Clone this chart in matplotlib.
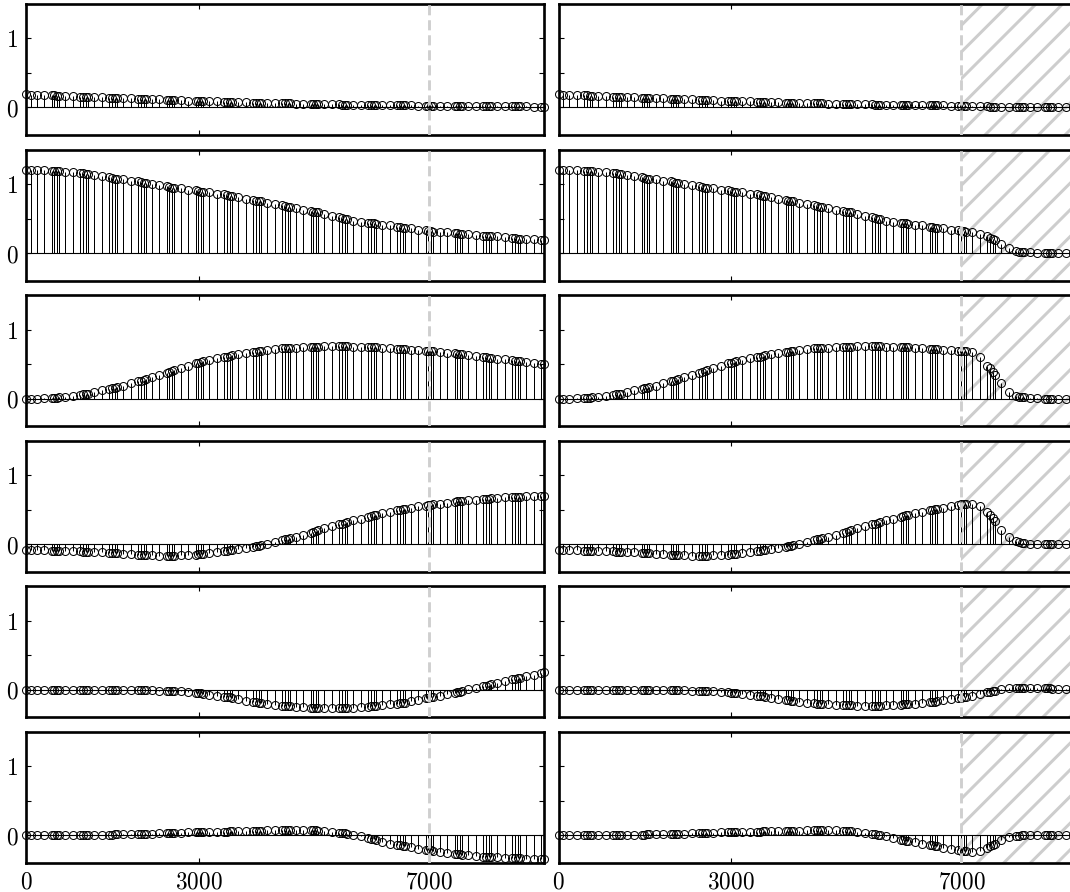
import matplotlib
matplotlib.use('Agg')
import matplotlib.pyplot as plt

# sample positions (same for every panel)
x_pos = [0, 80,
         186, 319, 446, 493, 545, 580,
         686, 819, 946, 993, 1045, 1080,
         1186, 1319, 1446, 1493, 1545, 1580,
         1686, 1819, 1946, 1993, 2045, 2080,
         2186, 2319, 2446, 2493, 2545, 2580,
         2686, 2819, 2946, 2993, 3045, 3080,
         3186, 3319, 3446, 3493, 3545, 3580,
         3686, 3819, 3946, 3993, 4045, 4080,
         4186, 4319, 4446, 4493, 4545, 4580,
         4686, 4819, 4946, 4993, 5045, 5080,
         5186, 5319, 5446, 5493, 5545, 5580,
         5686, 5819, 5946, 5993, 6045, 6080,
         6186, 6319, 6446, 6493, 6545, 6580,
         6686, 6819, 6946, 6993, 7045, 7080,
         7186, 7319, 7446, 7493, 7545, 7580,
         7686, 7819, 7946, 7993, 8045, 8080,
         8186, 8319, 8446, 8493, 8545, 8580,
         8686, 8819, 8946, 8993]

left_1 = [0.19, 0.187,
          0.183, 0.179, 0.174, 0.173, 0.171, 0.170,
          0.166, 0.161, 0.157, 0.155, 0.153, 0.152,
          0.149, 0.145, 0.141, 0.140, 0.138, 0.137,
          0.134, 0.130, 0.127, 0.125, 0.124, 0.123,
          0.119, 0.115, 0.112, 0.110, 0.108, 0.107,
          0.104, 0.100, 0.096, 0.095, 0.094, 0.093,
          0.090, 0.087, 0.084, 0.083, 0.081, 0.080,
          0.078, 0.075, 0.071, 0.070, 0.069, 0.068,
          0.066, 0.063, 0.061, 0.060, 0.059, 0.058,
          0.056, 0.054, 0.051, 0.050, 0.049, 0.048,
          0.047, 0.045, 0.043, 0.042, 0.042, 0.041,
          0.040, 0.038, 0.036, 0.035, 0.035, 0.034,
          0.033, 0.031, 0.030, 0.029, 0.029, 0.029,
          0.028, 0.026, 0.025, 0.025, 0.024, 0.024,
          0.023, 0.022, 0.021, 0.021, 0.021, 0.020,
          0.020, 0.019, 0.018, 0.018, 0.018, 0.017,
          0.017, 0.016, 0.015, 0.015, 0.015, 0.015,
          0.014, 0.013, 0.012, 0.012]

right_1 = [0.19, 0.187,
           0.183, 0.179, 0.174, 0.173, 0.171, 0.170,
           0.166, 0.161, 0.157, 0.155, 0.153, 0.152,
           0.149, 0.145, 0.141, 0.140, 0.138, 0.137,
           0.134, 0.130, 0.127, 0.125, 0.124, 0.123,
           0.119, 0.115, 0.112, 0.110, 0.108, 0.107,
           0.104, 0.100, 0.096, 0.095, 0.094, 0.093,
           0.090, 0.087, 0.084, 0.083, 0.081, 0.080,
           0.078, 0.075, 0.071, 0.070, 0.069, 0.068,
           0.066, 0.063, 0.061, 0.060, 0.059, 0.058,
           0.056, 0.054, 0.051, 0.050, 0.049, 0.048,
           0.047, 0.045, 0.043, 0.042, 0.042, 0.041,
           0.040, 0.038, 0.036, 0.035, 0.035, 0.034,
           0.033, 0.031, 0.030, 0.029, 0.029, 0.029,
           0.028, 0.026, 0.025, 0.025, 0.024, 0.024,
           0.022, 0.019, 0.015, 0.013, 0.011, 0.009,
           0.006, 0.003, 0.002, 0.001, 0.001, 0.0,
           0.0, 0.0, 0.0, 0.0, 0.0, 0.0,
           0.0, 0.0, 0.0, 0.0]

left_2 = [1.20, 1.20,
          1.20, 1.20, 1.19, 1.19, 1.19, 1.19,
          1.18, 1.17, 1.16, 1.16, 1.15, 1.15,
          1.13, 1.12, 1.10, 1.09, 1.08, 1.08,
          1.07, 1.05, 1.04, 1.03, 1.02, 1.02,
          1.00, 0.98, 0.97, 0.96, 0.95, 0.95,
          0.94, 0.92, 0.91, 0.90, 0.89, 0.89,
          0.88, 0.86, 0.85, 0.84, 0.83, 0.83,
          0.81, 0.79, 0.77, 0.76, 0.75, 0.75,
          0.73, 0.71, 0.69, 0.68, 0.67, 0.67,
          0.65, 0.63, 0.61, 0.60, 0.59, 0.59,
          0.56, 0.54, 0.52, 0.51, 0.50, 0.49,
          0.47, 0.45, 0.44, 0.43, 0.43, 0.42,
          0.41, 0.40, 0.38, 0.38, 0.37, 0.37,
          0.36, 0.34, 0.33, 0.32, 0.32, 0.31,
          0.31, 0.30, 0.29, 0.29, 0.28, 0.28,
          0.27, 0.26, 0.25, 0.25, 0.25, 0.24,
          0.24, 0.23, 0.22, 0.22, 0.21, 0.21,
          0.20, 0.20, 0.19, 0.19]

right_2 = [1.20, 1.20,
           1.20, 1.20, 1.19, 1.19, 1.19, 1.19,
           1.18, 1.17, 1.16, 1.16, 1.15, 1.15,
           1.13, 1.12, 1.10, 1.09, 1.08, 1.08,
           1.07, 1.05, 1.04, 1.03, 1.02, 1.02,
           1.00, 0.98, 0.97, 0.96, 0.95, 0.95,
           0.94, 0.92, 0.91, 0.90, 0.89, 0.89,
           0.88, 0.86, 0.85, 0.84, 0.83, 0.83,
           0.81, 0.79, 0.77, 0.76, 0.75, 0.75,
           0.73, 0.71, 0.69, 0.68, 0.67, 0.67,
           0.65, 0.63, 0.61, 0.60, 0.59, 0.59,
           0.56, 0.54, 0.52, 0.51, 0.50, 0.49,
           0.47, 0.45, 0.44, 0.43, 0.43, 0.42,
           0.41, 0.40, 0.38, 0.38, 0.37, 0.37,
           0.36, 0.34, 0.33, 0.32, 0.32, 0.31,
           0.30, 0.28, 0.24, 0.22, 0.20, 0.19,
           0.13, 0.07, 0.03, 0.02, 0.02, 0.01,
           0.01, 0.005, 0.0, 0.0, 0.0, 0.0,
           0.0, 0.0, 0.0, 0.0]

left_3 = [0.0, 0.0,
          0.0, 0.005, 0.01, 0.01, 0.015, 0.02,
          0.03, 0.04, 0.055, 0.06, 0.065, 0.07,
          0.09, 0.12, 0.14, 0.15, 0.16, 0.17,
          0.19, 0.22, 0.25, 0.26, 0.27, 0.28,
          0.31, 0.34, 0.37, 0.38, 0.40, 0.41,
          0.44, 0.47, 0.51, 0.52, 0.53, 0.54,
          0.56, 0.59, 0.61, 0.61, 0.62, 0.63,
          0.65, 0.66, 0.68, 0.68, 0.69, 0.69,
          0.71, 0.72, 0.73, 0.73, 0.735, 0.74,
          0.74, 0.75, 0.755, 0.755, 0.755, 0.755,
          0.76, 0.76, 0.76, 0.76, 0.76, 0.76,
          0.755, 0.755, 0.75, 0.75, 0.75, 0.745,
          0.74, 0.73, 0.725, 0.72, 0.72, 0.715,
          0.71, 0.70, 0.69, 0.69, 0.685, 0.685,
          0.68, 0.665, 0.655, 0.65, 0.645, 0.64,
          0.63, 0.62, 0.605, 0.60, 0.595, 0.59,
          0.58, 0.57, 0.555, 0.55, 0.545, 0.54,
          0.53, 0.52, 0.505, 0.50]

right_3 = [0.0, 0.0,
           0.0, 0.005, 0.01, 0.01, 0.015, 0.02,
           0.03, 0.04, 0.055, 0.06, 0.065, 0.07,
           0.09, 0.12, 0.14, 0.15, 0.16, 0.17,
           0.19, 0.22, 0.25, 0.26, 0.27, 0.28,
           0.31, 0.34, 0.37, 0.38, 0.40, 0.41,
           0.44, 0.47, 0.51, 0.52, 0.53, 0.54,
           0.56, 0.59, 0.61, 0.61, 0.62, 0.63,
           0.65, 0.66, 0.68, 0.68, 0.69, 0.69,
           0.71, 0.72, 0.73, 0.73, 0.735, 0.74,
           0.74, 0.75, 0.755, 0.755, 0.755, 0.755,
           0.76, 0.76, 0.76, 0.76, 0.76, 0.76,
           0.755, 0.755, 0.75, 0.75, 0.75, 0.745,
           0.74, 0.73, 0.725, 0.72, 0.72, 0.715,
           0.71, 0.70, 0.69, 0.69, 0.685, 0.685,
           0.67, 0.60, 0.48, 0.44, 0.38, 0.34,
           0.22, 0.10, 0.04, 0.03, 0.02, 0.02,
           0.01, 0.01, 0.0, 0.0, 0.0, 0.0,
           0.0, 0.0, 0.0, 0.0]

left_4 = [-0.09, -0.09,
          -0.09, -0.09, -0.095, -0.095, -0.095, -0.095,
          -0.10, -0.10, -0.105, -0.11, -0.11, -0.11,
          -0.115, -0.12, -0.125, -0.13, -0.13, -0.13,
          -0.14, -0.145, -0.15, -0.15, -0.155, -0.155,
          -0.16, -0.165, -0.165, -0.165, -0.165, -0.165,
          -0.16, -0.155, -0.15, -0.145, -0.14, -0.14,
          -0.13, -0.12, -0.10, -0.10, -0.09, -0.085,
          -0.07, -0.05, -0.035, -0.03, -0.02, -0.015,
          0.0, 0.03, 0.06, 0.07, 0.08, 0.09,
          0.11, 0.14, 0.17, 0.18, 0.19, 0.20,
          0.23, 0.26, 0.29, 0.30, 0.31, 0.32,
          0.35, 0.37, 0.40, 0.41, 0.42, 0.43,
          0.45, 0.47, 0.49, 0.50, 0.51, 0.51,
          0.53, 0.55, 0.56, 0.57, 0.57, 0.58,
          0.59, 0.60, 0.615, 0.62, 0.62, 0.625,
          0.635, 0.645, 0.655, 0.66, 0.66, 0.665,
          0.67, 0.68, 0.685, 0.69, 0.69, 0.69,
          0.695, 0.70, 0.70, 0.70]

right_4 = [-0.09, -0.09,
           -0.09, -0.09, -0.095, -0.095, -0.095, -0.095,
           -0.10, -0.10, -0.105, -0.11, -0.11, -0.11,
           -0.115, -0.12, -0.125, -0.13, -0.13, -0.13,
           -0.14, -0.145, -0.15, -0.15, -0.155, -0.155,
           -0.16, -0.165, -0.165, -0.165, -0.165, -0.165,
           -0.16, -0.155, -0.15, -0.145, -0.14, -0.14,
           -0.13, -0.12, -0.10, -0.10, -0.09, -0.085,
           -0.07, -0.05, -0.035, -0.03, -0.02, -0.015,
           0.0, 0.03, 0.06, 0.07, 0.08, 0.09,
           0.11, 0.14, 0.17, 0.18, 0.19, 0.20,
           0.23, 0.26, 0.29, 0.30, 0.31, 0.32,
           0.35, 0.37, 0.40, 0.41, 0.42, 0.43,
           0.45, 0.47, 0.49, 0.50, 0.51, 0.51,
           0.53, 0.55, 0.57, 0.58, 0.58, 0.585,
           0.585, 0.55, 0.47, 0.43, 0.38, 0.33,
           0.21, 0.10, 0.04, 0.03, 0.02, 0.015,
           0.01, 0.005, 0.0, 0.0, 0.0, 0.0,
           0.0, 0.0, 0.0, 0.0]

left_5 = [0.0, 0.0,
          0.0, 0.0, 0.0, 0.0, 0.0, 0.0,
          0.0, 0.0, 0.0, 0.0, 0.0, 0.0,
          0.0, 0.0, 0.0, 0.0, 0.0, 0.0,
          0.0, 0.0, -0.005, -0.005, -0.005, -0.005,
          -0.005, -0.01, -0.01, -0.01, -0.015, -0.015,
          -0.02, -0.03, -0.04, -0.045, -0.05, -0.055,
          -0.07, -0.085, -0.10, -0.105, -0.11, -0.115,
          -0.135, -0.155, -0.17, -0.18, -0.185, -0.19,
          -0.205, -0.215, -0.23, -0.235, -0.235, -0.24,
          -0.25, -0.255, -0.26, -0.265, -0.265, -0.265,
          -0.27, -0.27, -0.27, -0.27, -0.265, -0.265,
          -0.26, -0.255, -0.245, -0.24, -0.24, -0.235,
          -0.225, -0.21, -0.20, -0.195, -0.19, -0.185,
          -0.165, -0.145, -0.125, -0.12, -0.11, -0.105,
          -0.09, -0.065, -0.045, -0.035, -0.025, -0.02,
          0.005, 0.03, 0.055, 0.06, 0.07, 0.08,
          0.10, 0.125, 0.15, 0.16, 0.17, 0.175,
          0.20, 0.22, 0.25, 0.26]

right_5 = [0.0, 0.0,
           0.0, 0.0, 0.0, 0.0, 0.0, 0.0,
           0.0, 0.0, 0.0, 0.0, 0.0, 0.0,
           0.0, 0.0, 0.0, 0.0, 0.0, 0.0,
           0.0, 0.0, -0.005, -0.005, -0.005, -0.005,
           -0.005, -0.01, -0.01, -0.01, -0.015, -0.015,
           -0.02, -0.025, -0.035, -0.04, -0.045, -0.05,
           -0.06, -0.075, -0.085, -0.09, -0.095, -0.10,
           -0.115, -0.13, -0.145, -0.15, -0.155, -0.16,
           -0.175, -0.185, -0.195, -0.20, -0.20, -0.205,
           -0.21, -0.215, -0.22, -0.225, -0.225, -0.225,
           -0.23, -0.23, -0.23, -0.23, -0.23, -0.23,
           -0.225, -0.22, -0.215, -0.21, -0.21, -0.205,
           -0.20, -0.19, -0.18, -0.175, -0.17, -0.165,
           -0.15, -0.135, -0.12, -0.115, -0.11, -0.10,
           -0.085, -0.06, -0.035, -0.025, -0.015, -0.01,
           0.01, 0.02, 0.025, 0.025, 0.025, 0.025,
           0.025, 0.02, 0.02, 0.02, 0.02, 0.015,
           0.015, 0.01, 0.01, 0.01]

left_6 = [0.0, 0.0,
          0.0, 0.0, 0.0, 0.0, 0.0, 0.0,
          0.005, 0.005, 0.005, 0.005, 0.005, 0.005,
          0.01, 0.01, 0.01, 0.01, 0.015, 0.015,
          0.015, 0.02, 0.02, 0.02, 0.02, 0.025,
          0.025, 0.03, 0.03, 0.03, 0.035, 0.035,
          0.04, 0.045, 0.045, 0.05, 0.05, 0.05,
          0.05, 0.055, 0.055, 0.055, 0.06, 0.06,
          0.06, 0.065, 0.07, 0.07, 0.07, 0.07,
          0.075, 0.075, 0.08, 0.08, 0.08, 0.08,
          0.08, 0.08, 0.075, 0.075, 0.075, 0.07,
          0.065, 0.055, 0.04, 0.035, 0.03, 0.025,
          0.005, -0.015, -0.04, -0.045, -0.055, -0.06,
          -0.10, -0.12, -0.14, -0.145, -0.15, -0.155,
          -0.175, -0.19, -0.205, -0.21, -0.215, -0.22,
          -0.235, -0.25, -0.265, -0.27, -0.275, -0.28,
          -0.29, -0.30, -0.31, -0.315, -0.315, -0.32,
          -0.32, -0.325, -0.33, -0.33, -0.33, -0.33,
          -0.335, -0.335, -0.34, -0.34]

right_6 = [0.0, 0.0,
           0.0, 0.0, 0.0, 0.0, 0.0, 0.0,
           0.005, 0.005, 0.005, 0.005, 0.005, 0.005,
           0.01, 0.01, 0.01, 0.01, 0.015, 0.015,
           0.015, 0.02, 0.02, 0.02, 0.02, 0.025,
           0.025, 0.03, 0.03, 0.03, 0.035, 0.035,
           0.04, 0.045, 0.045, 0.05, 0.05, 0.05,
           0.05, 0.055, 0.055, 0.055, 0.06, 0.06,
           0.06, 0.065, 0.07, 0.07, 0.07, 0.07,
           0.07, 0.075, 0.075, 0.075, 0.075, 0.075,
           0.075, 0.075, 0.07, 0.07, 0.065, 0.065,
           0.055, 0.04, 0.025, 0.02, 0.01, 0.005,
           -0.015, -0.04, -0.06, -0.065, -0.075, -0.08,
           -0.095, -0.12, -0.14, -0.145, -0.155, -0.16,
           -0.18, -0.20, -0.215, -0.22, -0.225, -0.23,
           -0.24, -0.22, -0.18, -0.16, -0.14, -0.12,
           -0.07, -0.03, -0.01, -0.005, 0.0, 0.005,
           0.01, 0.01, 0.01, 0.01, 0.01, 0.01,
           0.01, 0.01, 0.005, 0.005]

left_series = [left_1, left_2, left_3, left_4, left_5, left_6]
right_series = [right_1, right_2, right_3, right_4, right_5, right_6]

x_ticks = [0, 3000, 7000]
x_labels = ['$0$', '$3000$', '$7000$']
y_ticks = [0, 0.5, 1]
y_labels = ['$0$', '', '$1$']
cut_x = 7000

plt.rcParams['mathtext.fontset'] = 'cm'
plt.rcParams['hatch.linewidth'] = 1.35
plt.rcParams['hatch.color'] = '#cdcdcd'

DPI = 160
W, H = 1070, 892
fig = plt.figure(figsize=(W / DPI, H / DPI), dpi=DPI)
fig.patch.set_facecolor('white')

col_left = [26 / W, 558.5 / W]
col_w = 518 / W
row_h = 131 / H

for r in range(6):
    top = 4 + 145.6 * r
    bottom = 1 - (top + 131) / H
    for c in range(2):
        ax = fig.add_axes([col_left[c], bottom, col_w, row_h])
        y = left_series[r] if c == 0 else right_series[r]

        if c == 1:
            ax.axvspan(cut_x, 9000, facecolor='none', edgecolor='#cdcdcd',
                       hatch='//', linewidth=0, zorder=0)

        ml, sl, bl = ax.stem(x_pos, y, basefmt='k-')
        ml.set(marker='o', markerfacecolor='none', markeredgecolor='k',
               markersize=3.6, markeredgewidth=0.45, linestyle='none',
               clip_on=False, zorder=4)
        sl.set(color='k', linewidth=0.45, zorder=3)
        bl.set(color='k', linewidth=0.5, zorder=3)

        ax.axvline(cut_x, color='#cfcfcf', linewidth=1.3,
                   linestyle=(0, (3.5, 1.7)), zorder=5)

        ax.set_xlim(0, 9000)
        ax.set_ylim(-0.4, 1.5)

        ax.set_xticks(x_ticks)
        ax.set_yticks(y_ticks)
        if r == 5:
            ax.set_xticklabels(x_labels)
        else:
            ax.set_xticklabels([])
        if c == 0:
            ax.set_yticklabels(y_labels)
        else:
            ax.set_yticklabels([])

        ax.tick_params(direction='in', top=True, right=True, length=2.3,
                       width=0.5, labelsize=10.5)
        ax.tick_params(axis='y', pad=3.5)
        ax.tick_params(axis='x', pad=3.5)
        for sp in ax.spines.values():
            sp.set_linewidth(1.2)

fig.savefig('out.png', dpi=DPI, facecolor='white')
